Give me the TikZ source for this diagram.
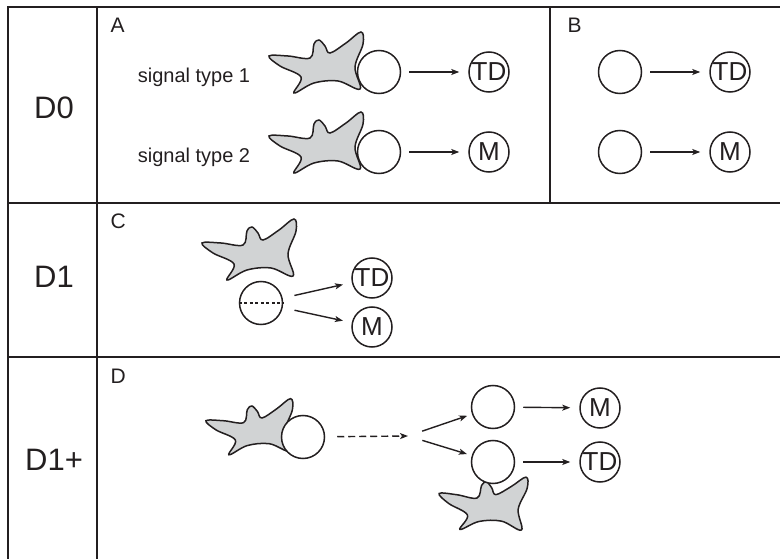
\documentclass[tikz,border=0pt]{standalone}
\usepackage{fontspec}
\setmainfont{Liberation Sans}
\usetikzlibrary{arrows.meta}
\definecolor{ink}{RGB}{35,31,32}
\definecolor{amoebagray}{RGB}{209,211,212}
\begin{document}
\begin{tikzpicture}[x=1pt,y=-1pt,
        grid/.style={draw=ink,line width=1.4pt},
        cell/.style={circle,draw=ink,fill=white,line width=1.5pt,minimum size=43pt,inner sep=0pt},
        fate/.style={circle,draw=ink,fill=white,line width=1.5pt,minimum size=40pt,inner sep=0pt,text=ink,font=\fontsize{26}{26}\selectfont},
        link/.style={draw=ink,line width=1.4pt,-{Stealth[length=8pt,width=6pt,inset=2pt]},shorten <=8pt,shorten >=9pt},
        day/.style={text=ink,font=\fontsize{31}{31}\selectfont},
        panel/.style={anchor=base west,text=ink,font=\fontsize{21}{21}\selectfont},
        sig/.style={anchor=base,text=ink,font=\fontsize{20}{20}\selectfont},
        amoeba/.pic={
            \filldraw[fill=amoebagray,draw=ink,line width=1.5pt] plot[smooth cycle,tension=0.6] coordinates {
                (-49,-9) (-30,-9) (-8,-7) (-4,-21) (1,-25) (7,-19) (12,-12) (28,-22) (43,-33)
                (45,-21) (37,2) (42,24) (20,16) (-4,18) (-24,28) (-17,12) (-38,1)};
        }]
                \def\w{780};
                \def\h{559};
                \useasboundingbox (0,0) rectangle (\w,\h);
                \draw[grid] (\w,7) -- (8,7) -- (8,\h);
                \draw[grid] (97,7) -- (97,\h);
                \draw[grid] (8,203) -- (\w,203);
                \draw[grid] (8,357) -- (\w,357);
                \draw[grid] (550,7) -- (550,203);
                \node[day] (d0) at (54,108) {D0};
                \node[day] (d1) at (54,277) {D1};
                \node[day] (d1p) at (54,460) {D1+};
                \node[panel] (pa) at (107,33) {A};
                \node[panel] (pb) at (564,33) {B};
                \node[panel] (pc) at (107,229) {C};
                \node[panel] (pd) at (107,383) {D};
                \foreach \y/\f/\n in {72/TD/1,152/M/2}{
                    \pic at (318,\y-7) {amoeba};
                    \node[sig] (s\n) at (194,\y+11) {signal type \n};
                    \node[cell] (a\n) at (379,\y) {};
                    \node[fate] (fa\n) at (489,\y) {\f};
                    \draw[link] (a\n) -- (fa\n);
                    \node[cell] (b\n) at (620,\y) {};
                    \node[fate] (fb\n) at (730,\y) {\f};
                    \draw[link] (b\n) -- (fb\n);}
                \pic at (251,252) {amoeba};
                \node[cell] (c) at (261,303) {};
                \draw[ink,line width=1.2pt,dash pattern=on 3pt off 2.5pt] (c.west) -- (c.east);
                \node[fate] (ctd) at (372,278) {TD};
                \node[fate] (cm) at (372,327) {M};
                \draw[link,shorten <=12pt] (c) -- (ctd);
                \draw[link,shorten <=12pt] (c) -- (cm);
                \pic[scale=0.92] at (251,429) {amoeba};
                \pic[scale=0.93,rotate=-4] at (484,505) {amoeba};
                \node[cell] (d1c) at (303,437) {};
                \coordinate (fork) at (408,436);
                \draw[link,dash pattern=on 7pt off 4pt,shorten <=12pt,shorten >=0pt] (d1c) -- (fork);
                \node[cell] (d2c) at (493,407) {};
                \node[cell] (d3c) at (493,462) {};
                \draw[link,shorten <=15pt,shorten >=5pt] (fork) -- (d2c);
                \draw[link,shorten <=15pt,shorten >=5pt] (fork) -- (d3c);
                \node[fate] (dm) at (600,408) {M};
                \node[fate] (dtd) at (600,462) {TD};
                \draw[link] (d2c) -- (dm);
                \draw[link] (d3c) -- (dtd);
            \end{tikzpicture}
\end{document}
